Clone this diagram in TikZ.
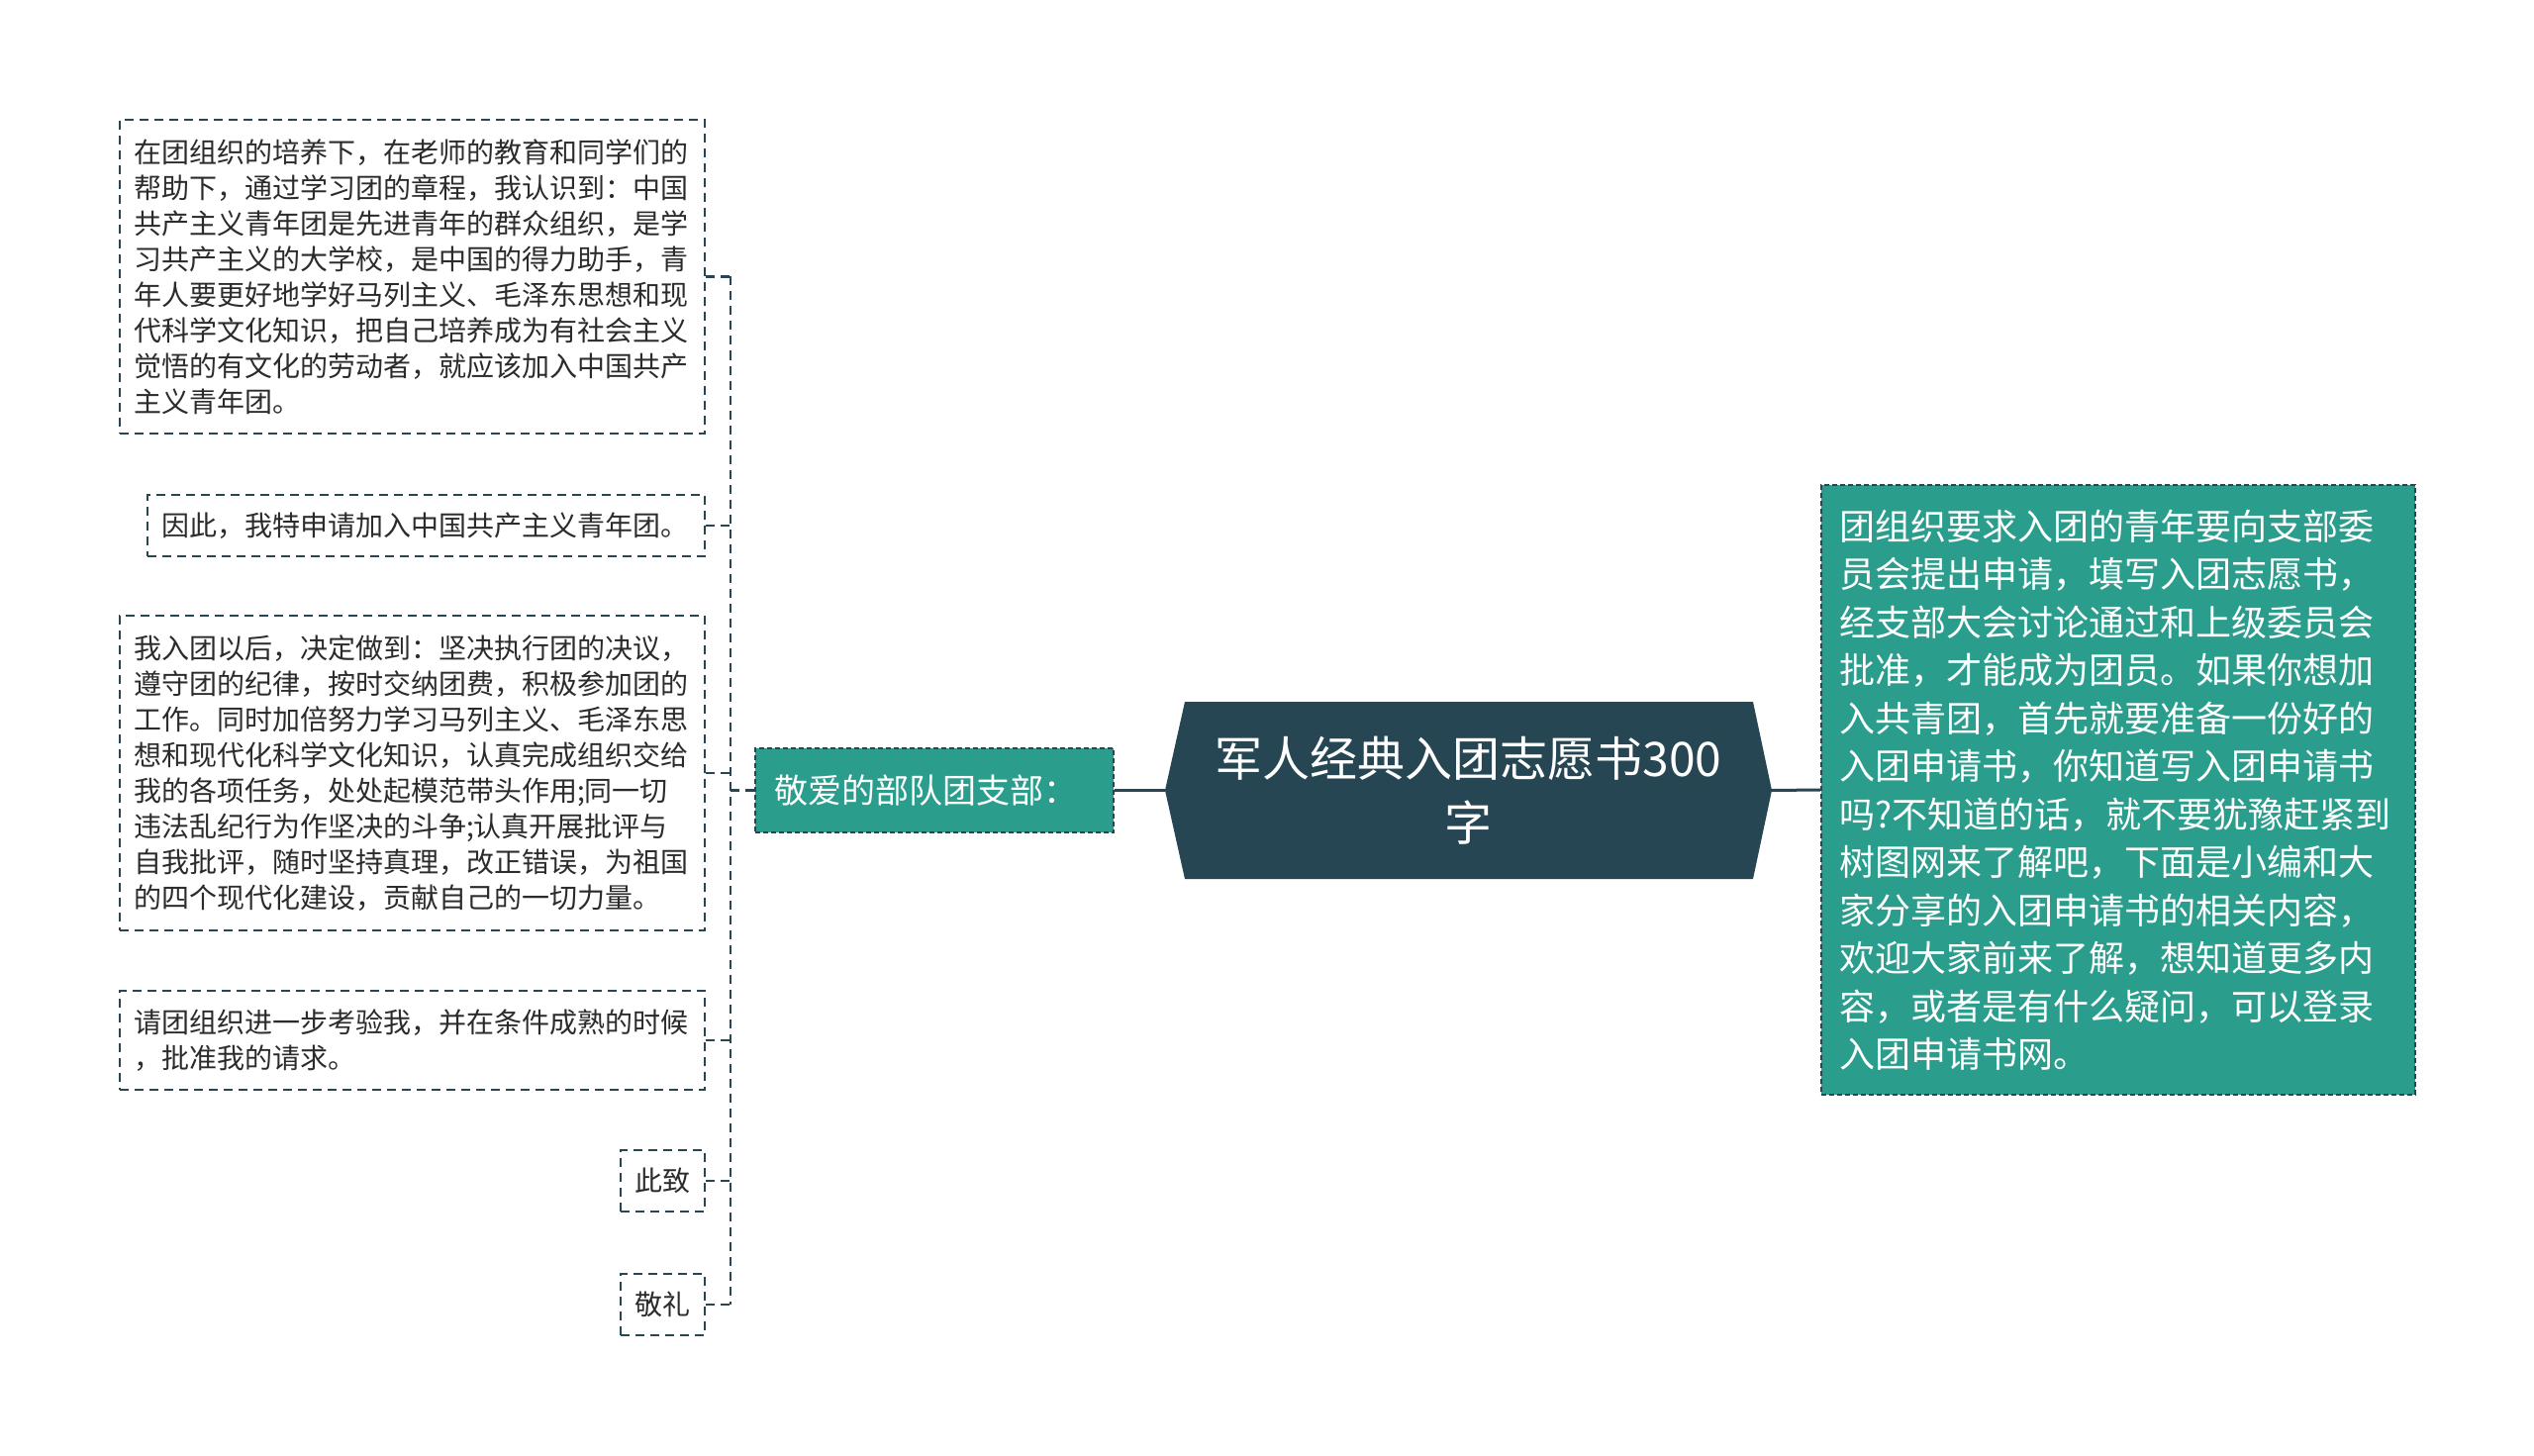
\documentclass[tikz,border=0pt]{standalone}
\usepackage{fontspec}
\setmainfont{Noto Sans CJK SC}
\definecolor{teal}{HTML}{2A9D8C}
\definecolor{dark}{HTML}{264653}
\definecolor{txt}{HTML}{2B2B2B}
\begin{document}
\begin{tikzpicture}[x=1pt,y=-1pt,
  leaf/.style={draw=dark, line width=2.3pt, dash pattern=on 9pt off 6pt,
    text=txt, font=\fontsize{28}{36}\selectfont, align=left,
    inner xsep=14pt, inner ysep=0pt, anchor=center},
  conn/.style={draw=dark, line width=2.3pt, dash pattern=on 9pt off 6pt},
  tealbox/.style={fill=teal, draw=dark, line width=1.6pt, dash pattern=on 5pt off 3pt,
    text=white, align=left, anchor=center, inner ysep=0pt},
  mainline/.style={draw=dark, line width=3pt}
]
\useasboundingbox[fill=white] (0,0) rectangle (2560,1471);

% left leaves
\node[leaf, text width=563pt, minimum height=317pt] (b1) at (416.5,279.5) {在团组织的培养下，在老师的教育和同学们的\\帮助下，通过学习团的章程，我认识到：中国\\共产主义青年团是先进青年的群众组织，是学\\习共产主义的大学校，是中国的得力助手，青\\年人要更好地学好马列主义、毛泽东思想和现\\代科学文化知识，把自己培养成为有社会主义\\觉悟的有文化的劳动者，就应该加入中国共产\\主义青年团。};
\node[leaf, text width=535pt, minimum height=62pt] (b2) at (430.5,531) {因此，我特申请加入中国共产主义青年团。};
\node[leaf, text width=563pt, minimum height=318pt] (b3) at (416.5,781) {我入团以后，决定做到：坚决执行团的决议，\\遵守团的纪律，按时交纳团费，积极参加团的\\工作。同时加倍努力学习马列主义、毛泽东思\\想和现代化科学文化知识，认真完成组织交给\\我的各项任务，处处起模范带头作用;同一切\\违法乱纪行为作坚决的斗争;认真开展批评与\\自我批评，随时坚持真理，改正错误，为祖国\\的四个现代化建设，贡献自己的一切力量。};
\node[leaf, text width=563pt, minimum height=100pt] (b4) at (416.5,1051) {请团组织进一步考验我，并在条件成熟的时候\\，批准我的请求。};
\node[leaf, text width=57pt, minimum height=62pt] (b5) at (669.5,1193) {此致};
\node[leaf, text width=57pt, minimum height=62pt] (b6) at (669.5,1318) {敬礼};

% middle node
\node[tealbox, text width=324pt, inner xsep=19pt, minimum height=85pt,
  font=\fontsize{34}{40}\selectfont] (mid) at (944,798.5) {敬爱的部队团支部：};

% bracket
\coordinate (bktop) at (738,279.5);
\coordinate (bkbot) at (738,1318);
\draw[conn] (bktop) -- (bkbot);
\foreach \b in {b1,b2,b3,b4,b5,b6}{
  \draw[conn] (\b.east) -- (\b.east -| bktop);
}
\draw[conn] (bktop |- mid.west) -- (mid.west);

% central hexagon
\coordinate (hl) at (1177,798.5);
\coordinate (hr) at (1790,798.5);
\fill[dark] (hl) -- (1197,709) -- (1771,709) -- (hr) -- (1771,888) -- (1197,888) -- cycle;
\node[text=white, align=center, font=\fontsize{48}{65}\selectfont] (root) at (1483.5,798.5) {军人经典入团志愿书300\\字};

% right box
\node[tealbox, text width=564pt, inner xsep=18pt, minimum height=616pt,
  font=\fontsize{36}{48.5}\selectfont] (rb) at (2140,798) {团组织要求入团的青年要向支部委\\员会提出申请，填写入团志愿书，\\经支部大会讨论通过和上级委员会\\批准，才能成为团员。如果你想加\\入共青团，首先就要准备一份好的\\入团申请书，你知道写入团申请书\\吗?不知道的话，就不要犹豫赶紧到\\树图网来了解吧，下面是小编和大\\家分享的入团申请书的相关内容，\\欢迎大家前来了解，想知道更多内\\容，或者是有什么疑问，可以登录\\入团申请书网。};

% main connectors
\draw[mainline] (mid.east) -- (hl);
\draw[mainline] (hr) -- (rb.west);
\end{tikzpicture}
\end{document}
